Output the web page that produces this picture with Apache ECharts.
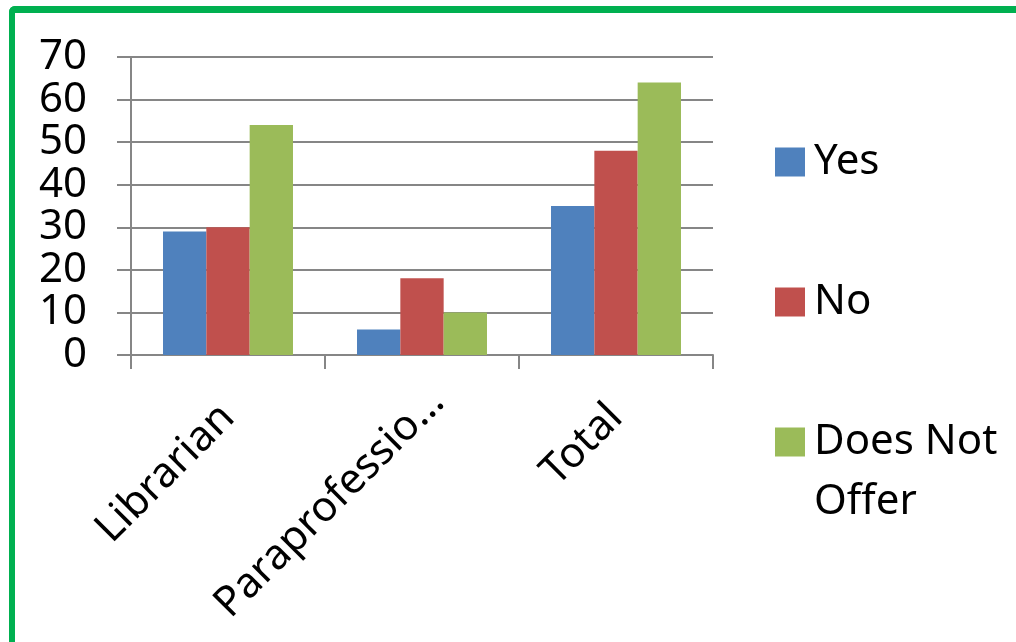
<!DOCTYPE html>
<html>
<head>
<meta charset="utf-8">
<script src="https://cdn.jsdelivr.net/npm/echarts@6/dist/echarts.min.js"></script>
<style>
  html, body { margin: 0; padding: 0; background: #fff; }
  #wrap { position: relative; width: 1016px; height: 642px; overflow: hidden; }
  #frame { position: absolute; left: 9px; top: 6px; width: 1100px; height: 700px;
           border-top: 7px solid #00b050; border-left: 6px solid #00b050; border-top-left-radius: 6px; box-sizing: border-box; }
  #chart { position: absolute; left: 0; top: 0; width: 1016px; height: 642px; }
</style>
</head>
<body>
<div id="wrap">
  <div id="frame"></div>
  <div id="chart"></div>
</div>
<script>
const categories = ['Librarian', 'Paraprofessional', 'Total'];
const yesValues = [29, 6, 35];
const noValues = [30, 18, 48];
const doesNotOfferValues = [54, 10, 64];
const seriesNames = ['Yes', 'No', 'Does Not Offer'];
const colors = ['#4f81bd', '#c0504d', '#9bbb59'];

const FONT = 'Noto Sans';
const chart = echarts.init(document.getElementById('chart'), null, { renderer: 'canvas' });
const gray = '#868686';

const categoryItems = categories.map(function (c) {
  return c.length > 14
    ? { value: c, textStyle: { padding: [0, -22, 0, 0] } }
    : c;
});

chart.setOption({
  animation: false,
  backgroundColor: 'transparent',
  color: colors,
  grid: { left: 131, right: 303, top: 57, bottom: 287, containLabel: false },
  legend: [
    {
      data: ['Yes', 'No'],
      orient: 'vertical',
      left: 770,
      top: 127,
      itemWidth: 30,
      itemHeight: 29,
      itemGap: 80,
      icon: 'rect',
      textStyle: { fontFamily: FONT, fontSize: 42, color: '#000', lineHeight: 60, padding: [0, 0, 0, 4] },
      selectedMode: false
    },
    {
      data: ['Does Not Offer'],
      orient: 'vertical',
      left: 770,
      top: 347,
      itemWidth: 30,
      itemHeight: 29,
      icon: 'rect',
      formatter: function () { return ' \nDoes Not\nOffer'; },
      textStyle: { fontFamily: FONT, fontSize: 42, color: '#000', lineHeight: 60, padding: [0, 0, 0, 4] },
      selectedMode: false
    }
  ],
  xAxis: {
    type: 'category',
    data: categoryItems,
    boundaryGap: true,
    axisLine: { lineStyle: { color: gray, width: 2 } },
    axisTick: { show: true, length: 14, lineStyle: { color: gray, width: 2 } },
    axisLabel: {
      rotate: 45,
      margin: 56,
      interval: 0,
      fontFamily: FONT,
      fontSize: 42,
      color: '#000',
      formatter: function (v) { return v.length > 14 ? v.slice(0, 13) + '…' : v; }
    },
    splitLine: { show: false }
  },
  yAxis: {
    type: 'value',
    min: 0,
    max: 70,
    interval: 10,
    axisLine: { show: true, lineStyle: { color: gray, width: 2 } },
    axisTick: { show: true, length: 14, lineStyle: { color: gray, width: 2 } },
    axisLabel: { margin: 44, fontFamily: FONT, fontSize: 42, color: '#000' },
    splitLine: { show: true, lineStyle: { color: gray, width: 2 } }
  },
  series: [
    { name: seriesNames[0], type: 'bar', data: yesValues, barGap: '0%', barCategoryGap: '33%' },
    { name: seriesNames[1], type: 'bar', data: noValues, barGap: '0%', barCategoryGap: '33%' },
    { name: seriesNames[2], type: 'bar', data: doesNotOfferValues, barGap: '0%', barCategoryGap: '33%' }
  ]
});
</script>
</body>
</html>
